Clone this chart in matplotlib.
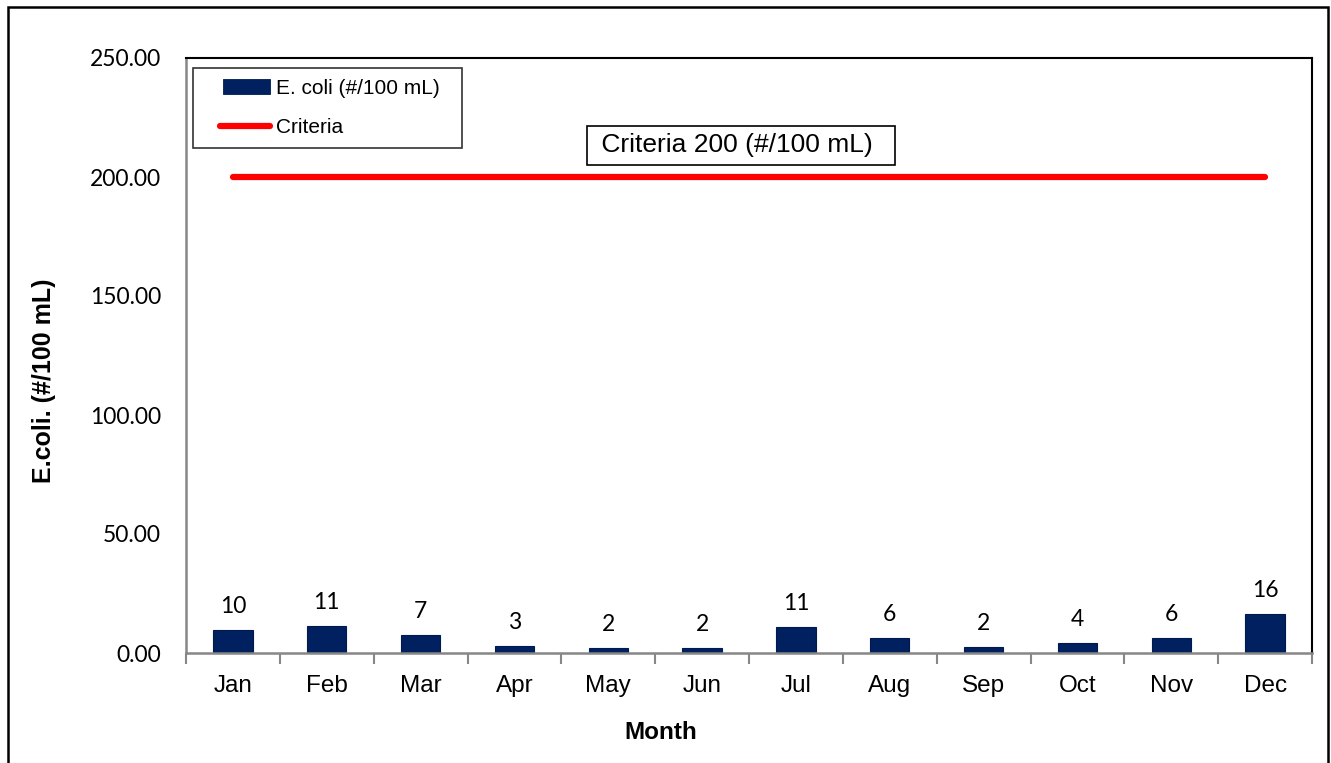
import matplotlib
matplotlib.use("Agg")
import matplotlib.pyplot as plt
from matplotlib.patches import Rectangle
from matplotlib.lines import Line2D
from matplotlib.legend_handler import HandlerBase

months = ["Jan", "Feb", "Mar", "Apr", "May", "Jun", "Jul", "Aug", "Sep", "Oct", "Nov", "Dec"]
ecoli = [9.8, 11.2, 7.4, 2.8, 2.2, 2.0, 10.8, 6.2, 2.4, 4.3, 6.3, 16.5]
criteria = [200] * 12
yticks = [0, 50, 100, 150, 200, 250]

BAR_COLOR = "#002060"
LINE_COLOR = "#ff0000"

fig = plt.figure(figsize=(13.31, 7.63), dpi=100)
# outer frame
fig.patches.append(Rectangle((8 / 1331, -0.01), (1328 - 8) / 1331, (763 - 7) / 763 + 0.01,
                             transform=fig.transFigure, fill=False, edgecolor="black", linewidth=1.8))

ax = fig.add_axes([186 / 1331, (763 - 653) / 763, (1312 - 186) / 1331, (653 - 58) / 763])
x = list(range(len(months)))
bars = ax.bar(x, ecoli, width=0.42, color=BAR_COLOR, edgecolor="#001a4d", linewidth=0.8,
              label="E. coli (#/100 mL)", zorder=2)
line, = ax.plot(x, criteria, color=LINE_COLOR, linewidth=4.5, solid_capstyle="round",
                label="Criteria", zorder=3)

for xi, v in zip(x, ecoli):
    ax.text(xi, v + 5.5, f"{v:.0f}", ha="center", va="bottom", fontsize=16.5, family="Lato", color="black")

ax.set_xlim(-0.5, 11.5)
ax.set_ylim(0, 250)
ax.set_yticks(yticks)
ax.set_yticklabels([f"{t:.2f}" for t in yticks], family="Lato", fontsize=16.5)
ax.tick_params(axis="y", length=0, pad=18)
ax.set_xticks(x)
ax.set_xticklabels(months, family="Liberation Sans", fontsize=17.5)
ax.tick_params(axis="x", length=0, pad=16)
ax.set_xticks([i - 0.5 for i in range(13)], minor=True)
ax.tick_params(axis="x", which="minor", length=8, width=1.5, color="#878787", direction="out")

for s in ["left", "bottom"]:
    ax.spines[s].set_color("#878787")
    ax.spines[s].set_linewidth(1.8)
for s in ["top", "right"]:
    ax.spines[s].set_color("black")
    ax.spines[s].set_linewidth(1.5)

ax.set_ylabel("E.coli. (#/100 mL)", family="Liberation Sans", fontsize=18, fontweight="bold")
ax.yaxis.set_label_coords(-0.1155, 0.457)
ax.set_xlabel("Month", family="Liberation Sans", fontsize=17.5, fontweight="bold")
ax.xaxis.set_label_coords(0.422, -0.114)


class OffsetBarHandler(HandlerBase):
    def create_artists(self, legend, orig_handle, xdescent, ydescent, width, height, fontsize, trans):
        off = 14
        h = 11
        r = Rectangle((-xdescent + off, -ydescent + height / 2 - h / 2), width - off, h,
                      facecolor=BAR_COLOR, edgecolor="#001a4d", linewidth=0.6, transform=trans)
        return [r]


class OffsetLineHandler(HandlerBase):
    def create_artists(self, legend, orig_handle, xdescent, ydescent, width, height, fontsize, trans):
        off = 12
        y = -ydescent + height / 2
        l = Line2D([-xdescent + off, -xdescent + width], [y, y], color=LINE_COLOR, linewidth=4.5,
                   solid_capstyle="round", transform=trans)
        return [l]


leg = ax.legend([bars, line], ["E. coli (#/100 mL)  ", "Criteria"], loc="upper left",
                bbox_to_anchor=(0.006, 0.983), frameon=True, fancybox=False,
                prop={"family": "Liberation Sans", "size": 15}, handlelength=3.2, handletextpad=0.3,
                borderpad=0.5, labelspacing=1.0, borderaxespad=0,
                handler_map={type(bars): OffsetBarHandler(), Line2D: OffsetLineHandler()})
leg.get_frame().set_edgecolor("black")
leg.get_frame().set_linewidth(1.2)

ax.text(0.493, 0.853, " Criteria 200 (#/100 mL)  ", transform=ax.transAxes, ha="center", va="center",
        family="Liberation Sans", fontsize=19,
        bbox=dict(boxstyle="square,pad=0.28", facecolor="white", edgecolor="black", linewidth=1.2))

fig.savefig("out.png", dpi=100)
